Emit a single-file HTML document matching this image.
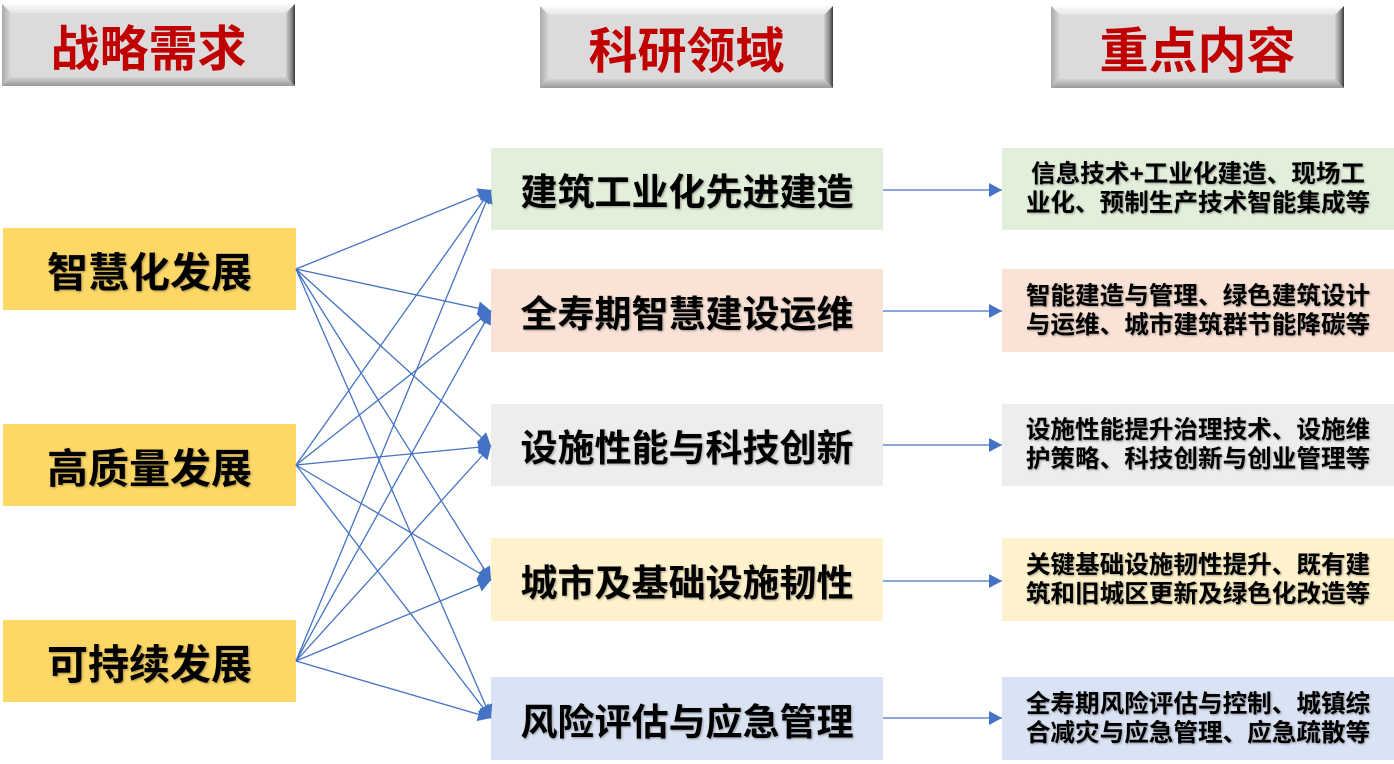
<!DOCTYPE html>
<html>
<head>
<meta charset="utf-8">
<style>
  html,body{margin:0;padding:0;background:#fff;}
  body{width:1394px;height:764px;position:relative;overflow:hidden;
       font-family:"Liberation Sans","Noto Sans CJK SC","WenQuanYi Zen Hei",sans-serif;}
  .box{position:absolute;display:flex;align-items:center;justify-content:center;
       font-weight:700;color:#000;text-shadow:1px 1px 2px rgba(0,0,0,0.35);box-sizing:border-box;}
  .left{left:3px;width:293px;height:82px;background:#fed866;font-size:41px;}
  .mid{left:491px;width:392px;height:82px;font-size:37px;}
  .right{left:1002px;width:392px;height:82px;font-size:24.6px;line-height:29px;text-align:center;}
  .g{background:#e2efda;} .p{background:#fae3d6;} .gr{background:#ededed;}
  .y{background:#fff2cc;} .b{background:#dae3f3;}
  .hdr{position:absolute;font-weight:700;color:#c00000;font-size:49px;
       display:flex;align-items:center;justify-content:center;width:293px;height:82px;}
  svg{position:absolute;left:0;top:0;}
</style>
</head>
<body>
<svg width="1394" height="764" viewBox="0 0 1394 764">
  <defs>
    <linearGradient id="gt" x1="0" y1="0" x2="0" y2="1">
      <stop offset="0" stop-color="#fbfbfb"/><stop offset="1" stop-color="#e6e5e6"/>
    </linearGradient>
    <linearGradient id="gl" x1="0" y1="0" x2="1" y2="0">
      <stop offset="0" stop-color="#a9a9a9"/><stop offset="1" stop-color="#dadada"/>
    </linearGradient>
    <linearGradient id="gr" x1="0" y1="0" x2="1" y2="0">
      <stop offset="0" stop-color="#cfcfcf"/><stop offset="0.6" stop-color="#8a8a8a"/><stop offset="1" stop-color="#3a3a3a"/>
    </linearGradient>
    <linearGradient id="gb" x1="0" y1="0" x2="0" y2="1">
      <stop offset="0" stop-color="#d2d2d2"/><stop offset="1" stop-color="#999"/>
    </linearGradient>
  </defs>
  <!-- header 1 -->
  <g>
    <rect x="2" y="4" width="293" height="82" fill="#dcdadb"/>
    <polygon points="2,4 295,4 286,13 11,13" fill="url(#gt)"/>
    <polygon points="2,4 11,13 11,77 2,86" fill="url(#gl)"/>
    <polygon points="295,4 295,86 286,77 286,13" fill="url(#gr)"/>
    <polygon points="2,86 295,86 286,77 11,77" fill="url(#gb)"/>
  </g>
  <g>
    <rect x="540" y="6" width="293" height="82" fill="#dcdadb"/>
    <polygon points="540,6 833,6 824,15 549,15" fill="url(#gt)"/>
    <polygon points="540,6 549,15 549,79 540,88" fill="url(#gl)"/>
    <polygon points="833,6 833,88 824,79 824,15" fill="url(#gr)"/>
    <polygon points="540,88 833,88 824,79 549,79" fill="url(#gb)"/>
  </g>
  <g>
    <rect x="1051" y="6" width="293" height="82" fill="#dcdadb"/>
    <polygon points="1051,6 1344,6 1335,15 1060,15" fill="url(#gt)"/>
    <polygon points="1051,6 1060,15 1060,79 1051,88" fill="url(#gl)"/>
    <polygon points="1344,6 1344,88 1335,79 1335,15" fill="url(#gr)"/>
    <polygon points="1051,88 1344,88 1335,79 1060,79" fill="url(#gb)"/>
  </g>
</svg>

<div class="hdr" style="left:2px;top:4px;">战略需求</div>
<div class="hdr" style="left:540px;top:6px;">科研领域</div>
<div class="hdr" style="left:1051px;top:6px;">重点内容</div>

<div class="box left" style="top:228px;">智慧化发展</div>
<div class="box left" style="top:424px;">高质量发展</div>
<div class="box left" style="top:620px;">可持续发展</div>

<div class="box mid g" style="top:148px;">建筑工业化先进建造</div>
<div class="box mid p" style="top:269px;height:83px;">全寿期智慧建设运维</div>
<div class="box mid gr" style="top:404px;">设施性能与科技创新</div>
<div class="box mid y" style="top:538px;height:83px;">城市及基础设施韧性</div>
<div class="box mid b" style="top:677px;height:83px;">风险评估与应急管理</div>

<div class="box right g" style="top:148px;">信息技术+工业化建造、现场工<br>业化、预制生产技术智能集成等</div>
<div class="box right p" style="top:269px;height:83px;">智能建造与管理、绿色建筑设计<br>与运维、城市建筑群节能降碳等</div>
<div class="box right gr" style="top:404px;">设施性能提升治理技术、设施维<br>护策略、科技创新与创业管理等</div>
<div class="box right y" style="top:538px;height:83px;">关键基础设施韧性提升、既有建<br>筑和旧城区更新及绿色化改造等</div>
<div class="box right b" style="top:677px;height:83px;">全寿期风险评估与控制、城镇综<br>合减灾与应急管理、应急疏散等</div>

<svg width="1394" height="764" viewBox="0 0 1394 764">
  <defs>
    <marker id="ah" markerUnits="userSpaceOnUse" markerWidth="14" markerHeight="15" refX="13" refY="7" orient="auto">
      <path d="M0,0 L13,7 L0,14 z" fill="#4472c4"/>
    </marker>
  </defs>
  <g stroke="#4472c4" stroke-width="1.3" fill="none" marker-end="url(#ah)">
    <line x1="296" y1="269" x2="491" y2="190"/>
    <line x1="296" y1="269" x2="491" y2="311"/>
    <line x1="296" y1="269" x2="491" y2="446"/>
    <line x1="296" y1="269" x2="491" y2="580"/>
    <line x1="296" y1="269" x2="491" y2="718"/>
    <line x1="296" y1="465" x2="491" y2="190"/>
    <line x1="296" y1="465" x2="491" y2="311"/>
    <line x1="296" y1="465" x2="491" y2="446"/>
    <line x1="296" y1="465" x2="491" y2="580"/>
    <line x1="296" y1="465" x2="491" y2="718"/>
    <line x1="296" y1="661" x2="491" y2="190"/>
    <line x1="296" y1="661" x2="491" y2="311"/>
    <line x1="296" y1="661" x2="491" y2="446"/>
    <line x1="296" y1="661" x2="491" y2="580"/>
    <line x1="296" y1="661" x2="491" y2="718"/>
    <line x1="883" y1="190" x2="1002" y2="190"/>
    <line x1="883" y1="311" x2="1002" y2="311"/>
    <line x1="883" y1="445" x2="1002" y2="445"/>
    <line x1="883" y1="581" x2="1002" y2="581"/>
    <line x1="883" y1="718" x2="1002" y2="718"/>
  </g>
</svg>
</body>
</html>
